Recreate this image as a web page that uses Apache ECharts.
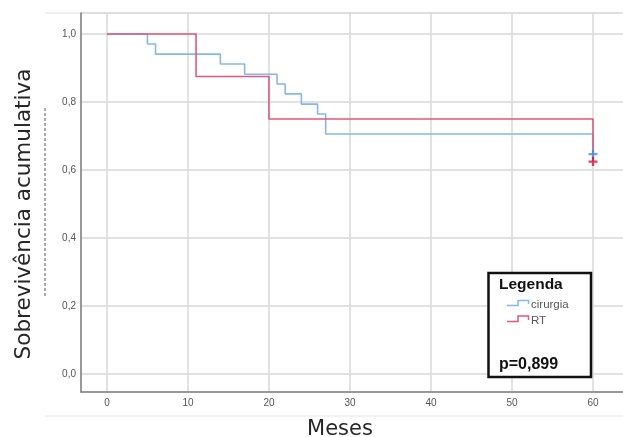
<!DOCTYPE html>
<html><head><meta charset="utf-8">
<script src="https://cdn.jsdelivr.net/npm/echarts@6/dist/echarts.min.js"></script>
<style>html,body{margin:0;padding:0;background:#fff}#c{width:623px;height:437px}</style>
</head><body><div id="c"></div>
<script>
// Kaplan-Meier steps (time in months, cumulative survival)
const cirurgiaTime = [0, 5, 6, 14, 17, 21, 22, 24, 26, 27, 60, 60];
const cirurgiaSurv = [1.0, 0.971, 0.941, 0.912, 0.882, 0.853, 0.824, 0.794, 0.765, 0.706, 0.706, 0.647];
const rtTime = [0, 11, 20, 60, 60];
const rtSurv = [1.0, 0.875, 0.75, 0.75, 0.625];
// censored observations
const cirurgiaCensor = [[60, 0.647]];
const rtCensor = [[60, 0.625]];
const xTicks = [0, 10, 20, 30, 40, 50, 60];
const yTicks = [0, 0.2, 0.4, 0.6, 0.8, 1.0];
const seriesNames = ['cirurgia', 'RT'];
const pValueText = 'p=0,899';

const blue = '#86b6ef', red = '#e3577a';
const plus = 'path://M3,0h2v3h3v2h-3v3h-2v-3h-3v-2h3z';
const zip = (a, b) => a.map((v, i) => [v, b[i]]);
const near = (v, arr) => arr.some(t => Math.abs(t - v) < 1e-6);

const chart = echarts.init(document.getElementById('c'), null, {renderer: 'canvas'});
chart.setOption({
  animation: false,
  backgroundColor: '#fff',
  grid: {left: 81, right: -6, top: 13, bottom: 45, containLabel: false, outerBoundsMode: 'none'},
  xAxis: {
    type: 'value', min: -3.2, max: 64.44,
    axisLine: {show: true, onZero: false, lineStyle: {color: '#808080', width: 1.5}},
    axisTick: {show: false},
    splitLine: {show: true, lineStyle: {color: '#d8d8d8', width: 1.5}},
    axisLabel: {margin: 6, color: '#555', fontSize: 10, fontFamily: 'Liberation Sans, Arial',
      formatter: v => near(v, xTicks) ? String(Math.round(v)) : ''}
  },
  yAxis: {
    type: 'value', min: -0.053, max: 1.062,
    axisLine: {show: true, onZero: false, lineStyle: {color: '#808080', width: 1.5}},
    axisTick: {show: false},
    splitLine: {show: true, lineStyle: {color: '#d8d8d8', width: 1.5}},
    axisLabel: {margin: 5, color: '#555', fontSize: 10, fontFamily: 'Liberation Sans, Arial',
      formatter: v => near(v, yTicks) ? v.toFixed(1).replace('.', ',') : ''}
  },
  series: [
    {name: seriesNames[0], type: 'line', step: 'end', showSymbol: false, symbol: 'none',
      data: zip(cirurgiaTime, cirurgiaSurv), lineStyle: {color: blue, width: 1.6}, z: 3},
    {name: seriesNames[1], type: 'line', step: 'end', showSymbol: false, symbol: 'none',
      data: zip(rtTime, rtSurv), lineStyle: {color: red, width: 1.6}, z: 4},
    {type: 'scatter', data: cirurgiaCensor, symbol: plus, symbolSize: 9,
      itemStyle: {color: '#3d8ee6'}, z: 5},
    {type: 'scatter', data: rtCensor, symbol: plus, symbolSize: 9,
      itemStyle: {color: '#d0153c'}, z: 5}
  ],
  graphic: [
    {type: 'line', shape: {x1: 45, y1: 13, x2: 619, y2: 13}, style: {stroke: '#e2e2e2', lineWidth: 1.2}, silent: true},
    {type: 'line', shape: {x1: 45, y1: 416, x2: 623, y2: 416}, style: {stroke: '#e6e6e6', lineWidth: 1}, silent: true},
    {type: 'line', shape: {x1: 45, y1: 108, x2: 45, y2: 297}, style: {stroke: '#555', lineWidth: 1, lineDash: [3, 2]}, silent: true},
    {type: 'text', x: 24, y: 214, rotation: Math.PI / 2,
      style: {text: 'Sobrevivência acumulativa', fill: '#262626', font: '21.5px "DejaVu Sans", sans-serif',
        textAlign: 'center', textVerticalAlign: 'middle'}},
    {type: 'text', x: 340, y: 430,
      style: {text: 'Meses', fill: '#262626', font: '21px "DejaVu Sans", sans-serif',
        textAlign: 'center', textVerticalAlign: 'middle'}},
    {type: 'rect', shape: {x: 488.5, y: 273, width: 102.5, height: 104},
      style: {fill: '#fff', stroke: '#111', lineWidth: 2.5}, z: 20},
    {type: 'text', x: 499, y: 285, z: 21,
      style: {text: 'Legenda', fill: '#111', font: 'bold 15.5px "Liberation Sans", Arial', textVerticalAlign: 'middle'}},
    {type: 'polyline', z: 21, shape: {points: [[507, 305.5], [518, 305.5], [518, 300.5], [528.5, 300.5], [528.5, 304]]},
      style: {stroke: blue, lineWidth: 1.5, fill: null}},
    {type: 'text', x: 531, y: 305, z: 21,
      style: {text: seriesNames[0], fill: '#555', font: '11.5px "Liberation Sans", Arial', textVerticalAlign: 'middle'}},
    {type: 'polyline', z: 21, shape: {points: [[507, 321.5], [518, 321.5], [518, 316], [528.5, 316], [528.5, 320]]},
      style: {stroke: red, lineWidth: 1.5, fill: null}},
    {type: 'text', x: 531, y: 320.5, z: 21,
      style: {text: seriesNames[1], fill: '#555', font: '11.5px "Liberation Sans", Arial', textVerticalAlign: 'middle'}},
    {type: 'text', x: 499, y: 364.5, z: 21,
      style: {text: pValueText, fill: '#111', font: 'bold 16px "Liberation Sans", Arial', textVerticalAlign: 'middle'}}
  ]
});
</script></body></html>
